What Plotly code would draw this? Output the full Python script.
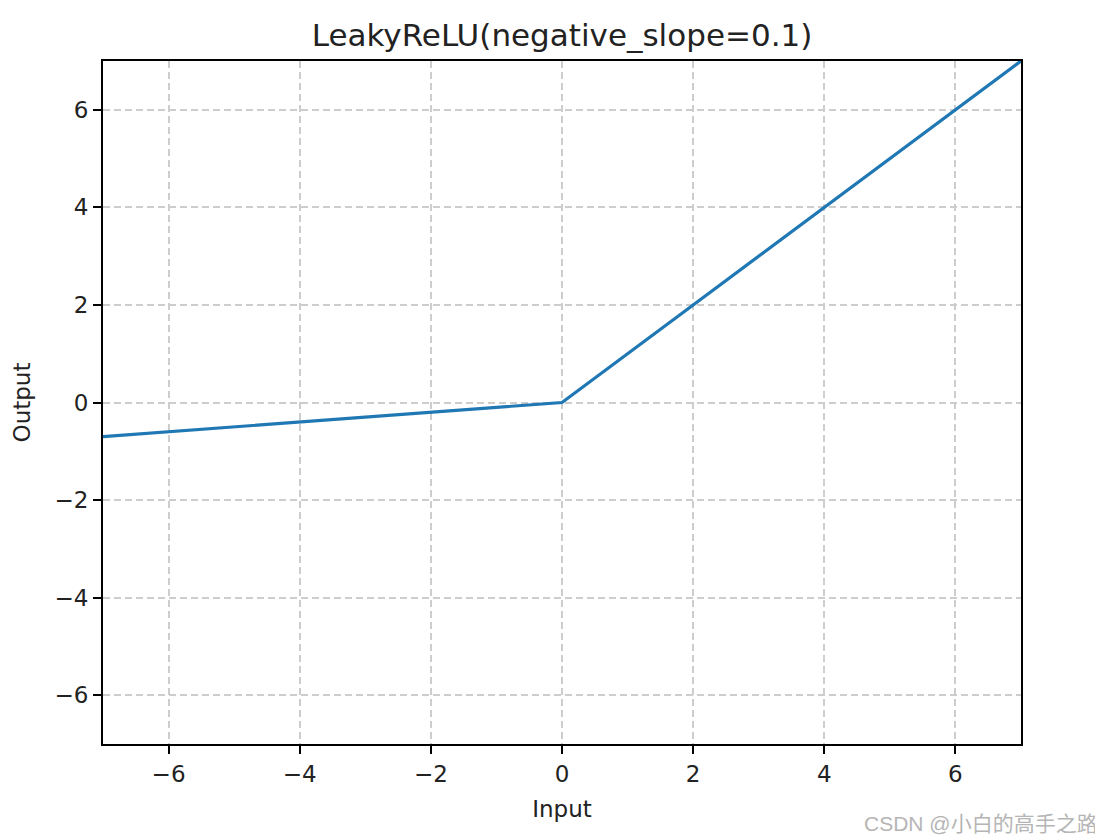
import plotly.graph_objects as go

# Data (points of LeakyReLU with negative_slope=0.1)
x_vals = [-7, -6, -4, -2, 0, 2, 4, 6, 7]
y_vals = [-0.7, -0.6, -0.4, -0.2, 0, 2, 4, 6, 7]

tick_vals = [-6, -4, -2, 0, 2, 4, 6]
tick_text = ["\u22126", "\u22124", "\u22122", "0", "2", "4", "6"]

title_text = "LeakyReLU(negative_slope=0.1)"
x_title = "Input"
y_title = "Output"
watermark = "CSDN @小白的高手之路"

fig = go.Figure()
fig.add_trace(go.Scatter(
    x=x_vals, y=y_vals, mode="lines",
    line=dict(color="#1f77b4", width=3.2),
    showlegend=False, hoverinfo="skip",
))

font_main = "DejaVu Sans"
W, H = 1095, 832
ML, MT, MR, MB = 95, 53, 82, 96
pw, ph = W - ML - MR, H - MT - MB

axis_common = dict(
    showline=True, linecolor="black", linewidth=2, mirror=True,
    ticks="outside", ticklen=8, tickwidth=2, tickcolor="black",
    showgrid=True, gridcolor="#cdcdcd", gridwidth=1.5, griddash="7px,4px",
    zeroline=False,
    tickvals=tick_vals, ticktext=tick_text,
    tickfont=dict(family=font_main, size=23, color="#222222"),
    range=[-7, 7],
)

fig.update_layout(
    width=W, height=H,
    margin=dict(l=ML, r=MR, t=MT, b=MB),
    paper_bgcolor="white", plot_bgcolor="white",
    title=dict(text=title_text, x=0.5, xanchor="center",
               xref="paper", y=1 - 27 / H, yanchor="middle",
               font=dict(family=font_main, size=31, color="#222222")),
    xaxis=dict(**axis_common,
               title=dict(text=x_title, font=dict(family=font_main, size=23, color="#222222"), standoff=15)),
    yaxis=dict(**axis_common,
               title=dict(text=y_title, font=dict(family=font_main, size=23, color="#222222"), standoff=17)),
    annotations=[dict(
        text=watermark, xref="paper", yref="paper",
        x=(1092 - ML) / pw, y=-(815 - (H - MB)) / ph,
        xanchor="right", yanchor="middle", showarrow=False,
        font=dict(family="Liberation Sans, Noto Sans CJK SC", size=21, color="#b5b5b5"),
    )],
)

fig.write_html("out.html")
